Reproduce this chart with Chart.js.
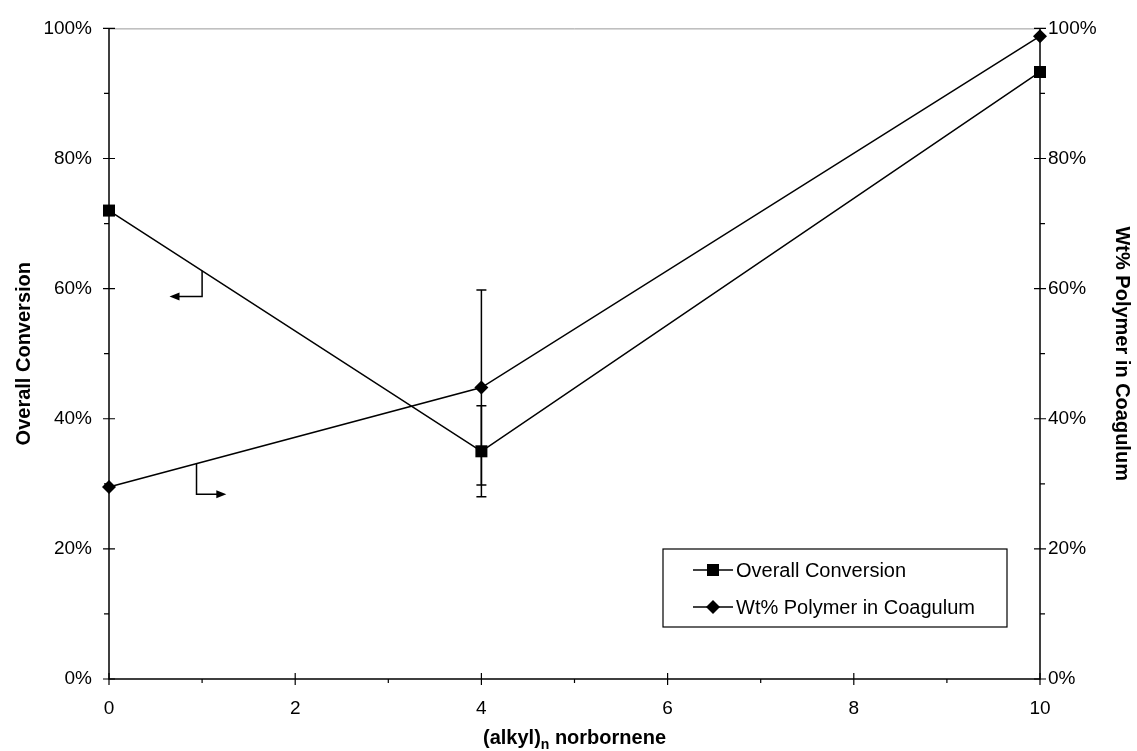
<!DOCTYPE html>
<html>
<head>
<meta charset="utf-8">
<script src="https://cdn.jsdelivr.net/npm/chart.js@4.4.0/dist/chart.umd.min.js"></script>
<style>
html, body { margin: 0; padding: 0; background: #fff; }
</style>
</head>
<body>
<canvas id="chart" width="1137" height="751"></canvas>
<script>
// data
const alkylN = [0, 4, 10];
const overallConversion = [72, 35, 93.3];
const conversionErr = [0, 7, 0];
const wtPolymer = [29.5, 44.8, 98.8];
const polymerErr = [0, 15, 0];

const FONT = '"Liberation Sans", Arial, sans-serif';

function toPoints(xs, ys) {
    return xs.map((x, i) => ({ x: x, y: ys[i] }));
}

// frame + tick marks (major cross the axis, minor stick out)
const frameTicks = {
    id: 'frameTicks',
    beforeDatasetsDraw(chart) {
        const { ctx, chartArea: a, scales } = chart;
        ctx.save();
        ctx.strokeStyle = '#999';
        ctx.lineWidth = 1;
        ctx.beginPath();
        ctx.moveTo(a.left, a.top + 0.5);
        ctx.lineTo(a.right, a.top + 0.5);
        ctx.stroke();

        ctx.strokeStyle = '#000';
        ctx.lineWidth = 1.5;
        ctx.beginPath();
        ctx.moveTo(a.left, a.top);
        ctx.lineTo(a.left, a.bottom);
        ctx.lineTo(a.right, a.bottom);
        ctx.lineTo(a.right, a.top);
        ctx.stroke();

        ctx.lineWidth = 1.2;
        ctx.beginPath();
        for (let v = 0; v <= 10; v++) {
            const px = scales.x.getPixelForValue(v);
            if (v % 2 === 0) {
                ctx.moveTo(px, a.bottom - 6);
                ctx.lineTo(px, a.bottom + 6);
            } else {
                ctx.moveTo(px, a.bottom);
                ctx.lineTo(px, a.bottom + 4);
            }
        }
        for (let v = 0; v <= 100; v += 10) {
            const py = scales.y.getPixelForValue(v);
            const py2 = scales.y2.getPixelForValue(v);
            if (v % 20 === 0) {
                ctx.moveTo(a.left - 6, py);
                ctx.lineTo(a.left + 6, py);
                ctx.moveTo(a.right - 6, py2);
                ctx.lineTo(a.right + 6, py2);
            } else {
                ctx.moveTo(a.left - 5, py);
                ctx.lineTo(a.left, py);
                ctx.moveTo(a.right, py2);
                ctx.lineTo(a.right + 5, py2);
            }
        }
        ctx.stroke();
        ctx.restore();
    }
};

// vertical error bars with caps
const errorBars = {
    id: 'errorBars',
    beforeDatasetsDraw(chart) {
        const { ctx, scales } = chart;
        const sets = [
            { ys: overallConversion, err: conversionErr, axis: scales.y },
            { ys: wtPolymer, err: polymerErr, axis: scales.y2 }
        ];
        ctx.save();
        ctx.strokeStyle = '#000';
        ctx.lineWidth = 1.5;
        sets.forEach(s => {
            alkylN.forEach((x, i) => {
                if (!s.err[i]) return;
                const px = scales.x.getPixelForValue(x);
                const hi = s.axis.getPixelForValue(s.ys[i] + s.err[i]);
                const lo = s.axis.getPixelForValue(s.ys[i] - s.err[i]);
                ctx.beginPath();
                ctx.moveTo(px, hi);
                ctx.lineTo(px, lo);
                ctx.moveTo(px - 5, hi);
                ctx.lineTo(px + 5, hi);
                ctx.moveTo(px - 5, lo);
                ctx.lineTo(px + 5, lo);
                ctx.stroke();
            });
        });
        ctx.restore();
    }
};

// little bent arrows telling which axis each line belongs to
const axisArrows = {
    id: 'axisArrows',
    afterDatasetsDraw(chart) {
        const { ctx, scales } = chart;
        const X = v => scales.x.getPixelForValue(v);
        const Y = v => scales.y.getPixelForValue(v);
        ctx.save();
        ctx.strokeStyle = '#000';
        ctx.fillStyle = '#000';
        ctx.lineWidth = 1.5;

        // conversion -> left axis
        let x0 = X(1), yTop = Y(72 - 37 / 4), yEnd = Y(58.8), tip = X(0.65);
        ctx.beginPath();
        ctx.moveTo(x0, yTop);
        ctx.lineTo(x0, yEnd);
        ctx.lineTo(tip + 8, yEnd);
        ctx.stroke();
        ctx.beginPath();
        ctx.moveTo(tip, yEnd);
        ctx.lineTo(tip + 10, yEnd - 4);
        ctx.lineTo(tip + 10, yEnd + 4);
        ctx.closePath();
        ctx.fill();

        // polymer -> right axis
        x0 = X(0.94); yTop = Y(29.5 + 15.3 * 0.94 / 4); yEnd = Y(28.4); tip = X(1.26);
        ctx.beginPath();
        ctx.moveTo(x0, yTop);
        ctx.lineTo(x0, yEnd);
        ctx.lineTo(tip - 8, yEnd);
        ctx.stroke();
        ctx.beginPath();
        ctx.moveTo(tip, yEnd);
        ctx.lineTo(tip - 10, yEnd - 4);
        ctx.lineTo(tip - 10, yEnd + 4);
        ctx.closePath();
        ctx.fill();
        ctx.restore();
    }
};

// boxed legend with line + marker samples, and x title with subscript
const legendBox = {
    id: 'legendBox',
    afterDraw(chart) {
        const { ctx } = chart;
        const bx = 663, by = 549, bw = 344, bh = 78;
        ctx.save();
        ctx.strokeStyle = '#000';
        ctx.lineWidth = 1.2;
        ctx.strokeRect(bx, by, bw, bh);
        ctx.font = '20px ' + FONT;
        ctx.textBaseline = 'middle';
        ctx.fillStyle = '#000';
        chart.data.datasets.forEach((ds, i) => {
            const cy = by + 21 + i * 37;
            ctx.beginPath();
            ctx.lineWidth = 1.5;
            ctx.moveTo(bx + 30, cy);
            ctx.lineTo(bx + 70, cy);
            ctx.stroke();
            const mx = bx + 50;
            ctx.beginPath();
            if (ds.pointStyle === 'rect') {
                ctx.rect(mx - 6, cy - 6, 12, 12);
            } else {
                ctx.moveTo(mx - 7, cy);
                ctx.lineTo(mx, cy - 7);
                ctx.lineTo(mx + 7, cy);
                ctx.lineTo(mx, cy + 7);
                ctx.closePath();
            }
            ctx.fill();
            ctx.fillText(ds.label, bx + 73, cy + 1);
        });

        // x axis title: (alkyl)n norbornene
        const a = chart.chartArea;
        const cx = (a.left + a.right) / 2;
        const ty = 737;
        const big = 'bold 20px ' + FONT, small = 'bold 14px ' + FONT;
        ctx.font = big;
        const w1 = ctx.measureText('(alkyl)').width;
        const w3 = ctx.measureText(' norbornene').width;
        ctx.font = small;
        const w2 = ctx.measureText('n').width;
        let x = cx - (w1 + w2 + w3) / 2;
        ctx.textBaseline = 'alphabetic';
        ctx.font = big;
        ctx.fillText('(alkyl)', x, ty + 7);
        x += w1;
        ctx.font = small;
        ctx.fillText('n', x, ty + 12);
        x += w2;
        ctx.font = big;
        ctx.fillText(' norbornene', x, ty + 7);
        ctx.restore();
    }
};

new Chart(document.getElementById('chart'), {
    type: 'scatter',
    data: {
        datasets: [{
            label: 'Overall Conversion',
            data: toPoints(alkylN, overallConversion),
            yAxisID: 'y',
            showLine: true,
            clip: false,
            borderColor: '#000',
            backgroundColor: '#000',
            borderWidth: 1.5,
            pointStyle: 'rect',
            pointRadius: 8.5,
            pointBorderWidth: 0
        }, {
            label: 'Wt% Polymer in Coagulum',
            data: toPoints(alkylN, wtPolymer),
            yAxisID: 'y2',
            showLine: true,
            clip: false,
            borderColor: '#000',
            backgroundColor: '#000',
            borderWidth: 1.5,
            pointStyle: 'rectRot',
            pointRadius: 7,
            pointBorderWidth: 0
        }]
    },
    options: {
        responsive: false,
        animation: false,
        devicePixelRatio: 1,
        layout: { padding: { top: 22, left: 0, right: 0, bottom: 0 } },
        plugins: {
            legend: { display: false },
            tooltip: { enabled: false }
        },
        scales: {
            x: {
                type: 'linear',
                position: 'bottom',
                min: 0,
                max: 10,
                grid: { display: false, drawTicks: false },
                border: { display: false },
                ticks: { stepSize: 2, color: '#000', padding: 18, font: { family: FONT, size: 19 } },
                afterFit(s) { s.height = 72; }
            },
            y: {
                position: 'left',
                min: 0,
                max: 100,
                grid: { display: false, drawTicks: false },
                border: { display: false },
                ticks: { stepSize: 20, color: '#000', padding: 17, font: { family: FONT, size: 19 },
                    callback: v => v + '%' },
                title: { display: true, text: 'Overall Conversion', color: '#000',
                    font: { family: FONT, size: 20, weight: 'bold' }, padding: { top: 12, bottom: 0 } },
                afterFit(s) { s.width = 109; }
            },
            y2: {
                position: 'right',
                min: 0,
                max: 100,
                grid: { display: false, drawTicks: false },
                border: { display: false },
                ticks: { stepSize: 20, color: '#000', padding: 8, font: { family: FONT, size: 19 },
                    callback: v => v + '%' },
                title: { display: true, text: 'Wt% Polymer in Coagulum', color: '#000',
                    font: { family: FONT, size: 20, weight: 'bold' }, padding: { top: 3, bottom: 0 } },
                afterFit(s) { s.width = 97; }
            }
        }
    },
    plugins: [frameTicks, errorBars, axisArrows, legendBox]
});
</script>
</body>
</html>
